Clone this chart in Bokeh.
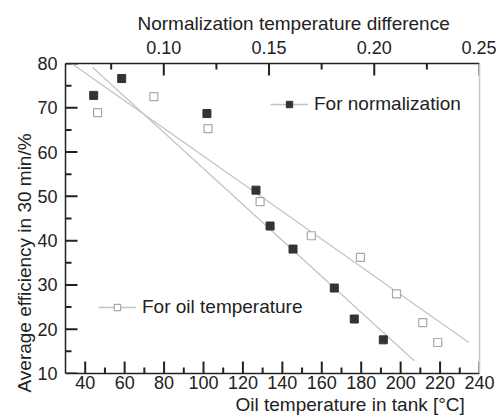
from bokeh.plotting import figure
from bokeh.models import (Range1d, LinearAxis, FixedTicker, Legend,
                          LegendItem, Title, NumeralTickFormatter)
from bokeh.embed import file_html
from bokeh.resources import INLINE

# Normalization series (top axis: normalization temperature difference)
norm_diff = [0.0667, 0.080, 0.1205, 0.1438, 0.1505, 0.1614, 0.181, 0.1905, 0.2043]
norm_eff = [72.8, 76.6, 68.7, 51.4, 43.3, 38.1, 29.3, 22.3, 17.6]

# Oil temperature series (bottom axis: oil temperature in tank)
oil_temp = [46.3, 74.8, 102.3, 128.7, 154.7, 179.6, 197.9, 211.2, 218.8]
oil_eff = [68.9, 72.5, 65.3, 48.8, 41.1, 36.2, 28.0, 21.5, 17.0]

# Linear trend lines (end points)
norm_fit_x = [0.0662, 0.219]
norm_fit_y = [79.1, 12.9]
oil_fit_x = [33.1, 234.6]
oil_fit_y = [80.0, 17.0]

# Tick values
temp_ticks = [40, 60, 80, 100, 120, 140, 160, 180, 200, 220, 240]
temp_minor = [50, 70, 90, 110, 130, 150, 170, 190, 210, 230]
eff_ticks = [10, 20, 30, 40, 50, 60, 70, 80]
eff_minor = [15, 25, 35, 45, 55, 65, 75]
diff_ticks = [0.10, 0.15, 0.20, 0.25]
diff_minor = [0.075, 0.125, 0.175, 0.225]

FONT = "Liberation Sans"
TXT = "#222222"
AX = "#222222"

X0, X1, Y0, Y1 = 30, 240, 10, 80
p = figure(width=496, height=417, output_backend="svg", toolbar_location=None,
           x_range=Range1d(X0, X1), y_range=Range1d(Y0, Y1),
           min_border_left=65, min_border_right=17,
           min_border_top=63, min_border_bottom=44,
           x_axis_location=None, y_axis_location=None)
p.extra_x_ranges = {"norm": Range1d(0.0533, 0.25)}
p.grid.visible = False
p.outline_line_color = None
p.background_fill_color = "white"
p.border_fill_color = "white"


def style_axis(ax, size="18px"):
    ax.axis_line_color = AX
    ax.axis_line_width = 1.5
    ax.major_tick_in = 0
    ax.major_tick_out = 0
    ax.minor_tick_in = 0
    ax.minor_tick_out = 0
    ax.major_label_text_font = FONT
    ax.major_label_text_font_size = size
    ax.major_label_text_color = TXT


bottom = LinearAxis(ticker=FixedTicker(ticks=temp_ticks))
style_axis(bottom)
bottom.major_label_standoff = 2
p.add_layout(bottom, "below")

left = LinearAxis(ticker=FixedTicker(ticks=eff_ticks))
style_axis(left)
left.major_label_standoff = 8
p.add_layout(left, "left")

top = LinearAxis(x_range_name="norm", ticker=FixedTicker(ticks=diff_ticks),
                 formatter=NumeralTickFormatter(format="0.00"))
style_axis(top)
top.major_label_standoff = 10
p.add_layout(top, "above")

right = LinearAxis(ticker=FixedTicker(ticks=[]), major_tick_in=0,
                   major_tick_out=0, minor_tick_in=0, minor_tick_out=0,
                   axis_line_color="#c8c8c8", axis_line_width=1.5)
p.add_layout(right, "right")


def title(text, side, offset, standoff):
    t = Title(text=text, align="left", offset=offset, standoff=standoff,
              text_font=FONT, text_font_size="19px", text_font_style="normal",
              text_color=TXT)
    p.add_layout(t, side)


title("Oil temperature in tank [°C]", "below", 170, 0)
title("Average efficiency in 30 min/%", "left", -19, 0)
title("Normalization temperature difference", "above", 72, 8)

# Inward tick marks drawn as short segments; lengths are given in pixels
# and converted to data units of each axis.
FRAME_W, FRAME_H = 414, 310
px_x = (X1 - X0) / FRAME_W
px_y = (Y1 - Y0) / FRAME_H


def vticks(xs, y, length_px, direction, **kw):
    y_end = y + direction * length_px * px_y
    p.segment(x0=xs, y0=[y] * len(xs), x1=xs, y1=[y_end] * len(xs),
              line_color=AX, line_width=2, **kw)


def hticks(ys, x, length_px):
    x_end = x + length_px * px_x
    p.segment(x0=[x] * len(ys), y0=ys, x1=[x_end] * len(ys), y1=ys,
              line_color=AX, line_width=2)


vticks(temp_ticks, Y0, 12, 1)
vticks(temp_minor, Y0, 6, 1)
vticks(diff_ticks, Y1, 12, -1, x_range_name="norm")
vticks(diff_minor, Y1, 6, -1, x_range_name="norm")
hticks(eff_ticks, X0, 12)
hticks(eff_minor, X0, 6)

# Trend lines
fit_n = p.line(norm_fit_x, norm_fit_y, x_range_name="norm",
               line_color="#c4c4c4", line_width=1.3)
fit_o = p.line(oil_fit_x, oil_fit_y, line_color="#c4c4c4", line_width=1.3)

# Data points
pts_n = p.scatter(norm_diff, norm_eff, x_range_name="norm", marker="square",
                  size=8, fill_color="#333333", line_color="#333333")
pts_o = p.scatter(oil_temp, oil_eff, marker="square", size=8,
                  fill_color="white", line_color="#a8a8a8", line_width=1.2)


def legend(label, renderers, loc):
    lg = Legend(items=[LegendItem(label=label, renderers=renderers)],
                location=loc, padding=0, margin=0, spacing=0,
                glyph_width=38, glyph_height=16, label_standoff=6,
                label_text_font=FONT, label_text_font_size="19px",
                label_text_color=TXT, border_line_alpha=0,
                background_fill_alpha=0)
    p.add_layout(lg, "center")


legend("For normalization", [fit_n, pts_n], (205, 258))
legend("For oil temperature", [fit_o, pts_o], (33, 55))

open("out.html", "w").write(file_html(p, INLINE))
